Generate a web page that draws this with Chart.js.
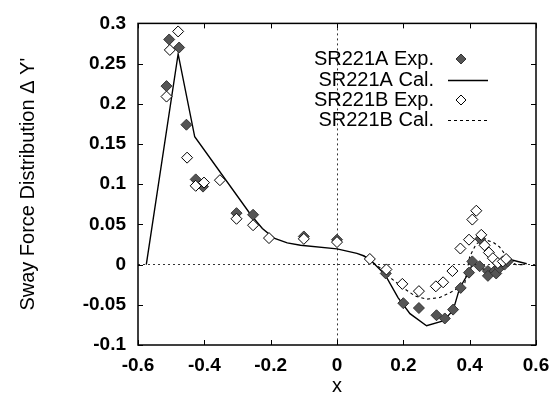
<!DOCTYPE html>
<html>
<head>
<meta charset="utf-8">
<script src="https://cdn.jsdelivr.net/npm/chart.js@4"></script>
<style>
  html, body { margin: 0; padding: 0; background: #fff; }
</style>
</head>
<body>
<canvas id="myChart" width="559" height="398"></canvas>
<script>
// SR221A measured
const xAExp = [-0.514, -0.506, -0.476, -0.454, -0.426, -0.404, -0.303, -0.253, -0.10, 0.0, 0.147, 0.20, 0.247, 0.30, 0.325, 0.35, 0.373, 0.398, 0.408, 0.432, 0.43, 0.455, 0.455, 0.475, 0.48, 0.49, 0.505, 0.515];
const yAExp = [0.222, 0.280, 0.270, 0.174, 0.106, 0.097, 0.064, 0.062, 0.035, 0.031, -0.011, -0.048, -0.054, -0.063, -0.067, -0.056, -0.029, -0.010, 0.004, 0.032, -0.002, -0.008, -0.014, -0.008, -0.011, -0.004, 0.000, 0.004];

// SR221A calculated
const xACal = [-0.575, -0.479, -0.429, -0.26, -0.225, -0.19, -0.15, -0.11, 0.0, 0.06, 0.08, 0.10, 0.144, 0.184, 0.22, 0.27, 0.32, 0.35, 0.37, 0.40, 0.41, 0.43, 0.46, 0.49, 0.51, 0.525, 0.572];
const yACal = [0, 0.262, 0.159, 0.062, 0.045, 0.033, 0.027, 0.024, 0.0195, 0.014, 0.011, 0.006, -0.012, -0.041, -0.061, -0.076, -0.070, -0.057, -0.029, -0.008, 0.003, -0.004, -0.008, -0.005, 0.002, 0.006, 0.001];

// SR221B measured
const xBExp = [-0.514, -0.504, -0.479, -0.452, -0.426, -0.401, -0.353, -0.303, -0.253, -0.205, -0.10, 0.0, 0.099, 0.149, 0.197, 0.247, 0.298, 0.32, 0.348, 0.372, 0.398, 0.408, 0.42, 0.435, 0.445, 0.458, 0.47, 0.485, 0.50, 0.51];
const yBExp = [0.209, 0.267, 0.290, 0.133, 0.098, 0.102, 0.105, 0.057, 0.049, 0.033, 0.032, 0.028, 0.007, -0.006, -0.024, -0.033, -0.027, -0.022, -0.008, 0.020, 0.031, 0.056, 0.067, 0.037, 0.024, 0.015, 0.008, 0.002, 0.004, 0.007];

// SR221B calculated
const xBCal = [0.08, 0.10, 0.13, 0.16, 0.20, 0.235, 0.27, 0.31, 0.35, 0.385, 0.40, 0.42, 0.445, 0.47, 0.49, 0.508, 0.52, 0.54, 0.56];
const yBCal = [0.011, 0.005, -0.004, -0.016, -0.029, -0.039, -0.043, -0.041, -0.033, -0.024, 0.010, 0.026, 0.031, 0.028, 0.022, 0.012, 0.004, 0.0, 0.0];

const xTicks = [-0.6, -0.4, -0.2, 0, 0.2, 0.4, 0.6];
const yTicks = [-0.1, -0.05, 0, 0.05, 0.1, 0.15, 0.2, 0.25, 0.3];

const legendNames = ['SR221A Exp.', 'SR221A Cal.', 'SR221B Exp.', 'SR221B Cal.'];

const pts = (xs, ys) => xs.map((x, i) => ({x: x, y: ys[i]}));
const fnt = "'Liberation Sans', Arial, sans-serif";

// frame, inward ticks on all four sides, and the legend
const framePlugin = {
  id: 'frame',
  afterDraw(chart) {
    const c = chart.ctx;
    const a = chart.chartArea;
    const sx = chart.scales.x, sy = chart.scales.y;
    c.save();
    c.strokeStyle = '#000';
    c.lineWidth = 1.5;
    c.setLineDash([]);
    c.strokeRect(a.left, a.top, a.right - a.left, a.bottom - a.top);
    c.lineWidth = 1;
    c.beginPath();
    xTicks.forEach(v => {
      const px = Math.round(sx.getPixelForValue(v)) + 0.5;
      c.moveTo(px, a.bottom); c.lineTo(px, a.bottom - 5);
      c.moveTo(px, a.top); c.lineTo(px, a.top + 5);
    });
    yTicks.forEach(v => {
      const py = Math.round(sy.getPixelForValue(v)) + 0.5;
      c.moveTo(a.left, py); c.lineTo(a.left + 5, py);
      c.moveTo(a.right, py); c.lineTo(a.right - 5, py);
    });
    c.stroke();

    // legend
    c.font = '20px ' + fnt;
    c.fillStyle = '#000';
    c.textAlign = 'right';
    c.textBaseline = 'middle';
    const rows = [59, 80, 100, 120];
    rows.forEach((ry, i) => {
      c.fillText(legendNames[i], 434, ry);
    });
    const ds = chart.data.datasets;
    // markers
    [0, 2].forEach(i => {
      const d = ds[i];
      c.beginPath();
      c.moveTo(461, rows[i] - 5); c.lineTo(466, rows[i]); c.lineTo(461, rows[i] + 5); c.lineTo(456, rows[i]);
      c.closePath();
      c.fillStyle = d.backgroundColor;
      c.fill();
      c.strokeStyle = d.borderColor;
      c.lineWidth = 1;
      c.stroke();
    });
    // lines
    [1, 3].forEach(i => {
      const d = ds[i];
      c.beginPath();
      c.strokeStyle = '#000';
      c.lineWidth = d.borderWidth;
      c.setLineDash(d.borderDash || []);
      c.moveTo(448, rows[i] + 0.5); c.lineTo(488, rows[i] + 0.5);
      c.stroke();
    });
    c.restore();
  }
};

new Chart(document.getElementById('myChart'), {
  type: 'scatter',
  data: {
    datasets: [
      {
        label: legendNames[0],
        data: pts(xAExp, yAExp),
        pointStyle: 'rectRot',
        pointRadius: 5.5,
        backgroundColor: '#555',
        borderColor: '#333',
        borderWidth: 1,
        order: 1
      },
      {
        label: legendNames[1],
        data: pts(xACal, yACal),
        showLine: true,
        pointRadius: 0,
        borderColor: '#000',
        borderWidth: 1.4,
        order: 3
      },
      {
        label: legendNames[2],
        data: pts(xBExp, yBExp),
        pointStyle: 'rectRot',
        pointRadius: 5.5,
        backgroundColor: '#fff',
        borderColor: '#000',
        borderWidth: 1,
        order: 0
      },
      {
        label: legendNames[3],
        data: pts(xBCal, yBCal),
        showLine: true,
        pointRadius: 0,
        borderColor: '#000',
        borderWidth: 1.1,
        borderDash: [3, 3],
        order: 2
      }
    ]
  },
  options: {
    responsive: false,
    devicePixelRatio: 1,
    animation: false,
    layout: { padding: { top: 17, right: 23, left: 0, bottom: 0 } },
    plugins: {
      legend: { display: false },
      tooltip: { enabled: false }
    },
    scales: {
      x: {
        type: 'linear',
        min: -0.6,
        max: 0.6,
        afterBuildTicks: s => { s.ticks = xTicks.map(v => ({value: v})); },
        afterFit: s => { s.height = 53; },
        ticks: {
          padding: 9,
          color: '#000',
          font: { family: fnt, size: 19, weight: 'bold' },
          callback: v => String(Math.round(v * 10) / 10)
        },
        grid: {
          drawTicks: false,
          color: c => (c.tick && c.tick.value === 0 ? '#333' : 'rgba(0,0,0,0)'),
          lineWidth: 1
        },
        border: { display: false, dash: [2, 3] },
        title: {
          display: true,
          text: 'x',
          color: '#000',
          font: { family: fnt, size: 20 },
          padding: { top: 0, bottom: 0 }
        }
      },
      y: {
        type: 'linear',
        min: -0.1,
        max: 0.3,
        afterBuildTicks: s => { s.ticks = yTicks.map(v => ({value: v})); },
        afterFit: s => { s.width = 138; },
        ticks: {
          padding: 12,
          color: '#000',
          font: { family: fnt, size: 19, weight: 'bold' },
          callback: v => String(Math.round(v * 100) / 100)
        },
        grid: {
          drawTicks: false,
          color: c => (c.tick && c.tick.value === 0 ? '#333' : 'rgba(0,0,0,0)'),
          lineWidth: 1
        },
        border: { display: false, dash: [2, 3] },
        title: {
          display: true,
          text: 'Sway Force Distribution \u0394 Y\'',
          color: '#000',
          font: { family: fnt, size: 20 },
          padding: { top: 16, bottom: 0 }
        }
      }
    }
  },
  plugins: [framePlugin]
});
</script>
</body>
</html>
